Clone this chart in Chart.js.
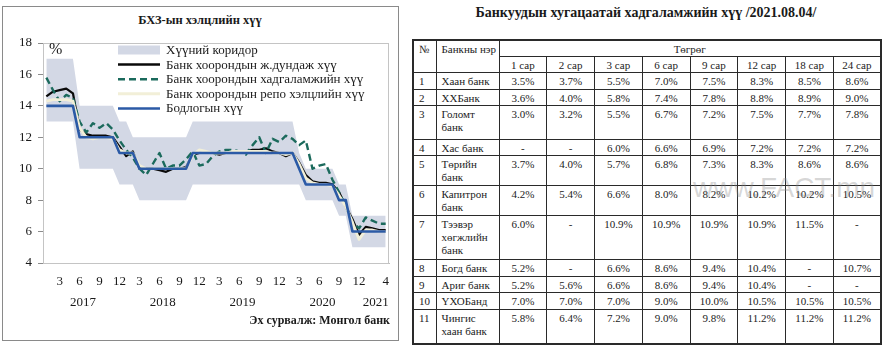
<!DOCTYPE html>
<html><head><meta charset="utf-8">
<script src="https://cdn.jsdelivr.net/npm/chart.js@4.4.1/dist/chart.umd.min.js"></script>
<style>
html,body{margin:0;padding:0;background:#fff;}
body{width:896px;height:352px;position:relative;overflow:hidden;font-family:"Liberation Serif","Times New Roman",serif;color:#1a1a1a;}
#panel{position:absolute;left:2px;top:6px;width:397px;height:335px;border:1.5px solid #8a8a8a;box-sizing:border-box;}
#cwrap{position:absolute;left:0;top:0;width:400px;height:352px;}
#ctitle{position:absolute;left:0;width:400px;top:12px;line-height:16px;text-align:center;font-weight:bold;font-size:12.5px;}
#src{position:absolute;left:0;width:390px;top:312px;line-height:16px;text-align:right;font-weight:bold;font-size:12px;}
#ttitle{position:absolute;left:412px;width:468px;top:4px;line-height:18px;text-align:center;font-weight:bold;font-size:14px;}
#tbl{position:absolute;left:412px;top:39px;width:468px;border-collapse:collapse;table-layout:fixed;font-size:11px;color:#222;}
#tbl td{border:1px solid #2a2a2a;padding:2px 0 0 0;vertical-align:top;line-height:13px;text-align:center;}
#tbl td.n{text-align:left;padding-left:5px;}
#tbl{border:2px solid #2a2a2a;}
#wm{position:absolute;left:693px;top:172px;font-family:"Liberation Sans",Arial,sans-serif;font-size:28px;color:rgba(140,140,140,0.35);white-space:nowrap;}
</style>
</head><body>
<div id="panel"></div>
<div id="ctitle">БХЗ-ын хэлцлийн хүү</div>
<div id="cwrap"><canvas id="c" width="400" height="352"></canvas></div>
<div id="src">Эх сурвалж: Монгол банк</div>
<div id="ttitle">Банкуудын хугацаатай хадгаламжийн хүү /2021.08.04/</div>
<table id="tbl"></table>
<div id="wm">www.FACT.mn</div>
<script>
// ---------- chart data ----------
const categories = [
 "2017.01","2017.02","2017.03","2017.04","2017.05","2017.06","2017.07","2017.08","2017.09","2017.10","2017.11","2017.12",
 "2018.01","2018.02","2018.03","2018.04","2018.05","2018.06","2018.07","2018.08","2018.09","2018.10","2018.11","2018.12",
 "2019.01","2019.02","2019.03","2019.04","2019.05","2019.06","2019.07","2019.08","2019.09","2019.10","2019.11","2019.12",
 "2020.01","2020.02","2020.03","2020.04","2020.05","2020.06","2020.07","2020.08","2020.09","2020.10","2020.11","2020.12",
 "2021.01","2021.02","2021.03","2021.04"];
const yearLabels = ["2017","2018","2019","2020","2021"];
const corridorLow = [13,13,13,13,13,10,10,10,10,10,10,9, 9,9,8,8,8,8,8,8,8,8,9,9, 9,9,9,9,9,9,9,9,9,9,9,9, 9,9,9,8,8,8,8,8,7,7,5,5, 5,5,5,5];
const corridorHigh = [17,17,17,17,17,14,14,14,14,14,14,13, 13,12,12,12,12,12,12,12,12,12,13,13, 13,13,13,13,13,13,13,13,13,13,13,13, 13,13,11,10,10,10,10,10,9,9,7,7, 7,7,7,7];
const interbankAvg = [14.6,14.9,15.0,15.1,14.8,12.5,12.2,12.1,12.1,12.1,12.0,11.4,
 10.8,11.1,10.0,10.0,10.0,9.9,9.8,10.0,10.0,10.1,10.9,11.0,
 11.0,11.0,10.9,11.0,11.0,11.0,11.1,11.2,11.2,11.3,11.1,11.0,
 10.8,11.0,10.4,9.6,9.2,9.1,9.1,9.0,8.5,7.6,6.8,5.8,
 6.3,6.2,6.1,6.1];
const interbankDeposit = [15.8,15.0,14.3,14.7,14.5,13.0,12.3,12.9,12.6,12.9,12.5,11.8,
 11.2,10.7,10.0,9.6,10.3,11.0,10.0,10.2,10.2,10.6,11.1,10.2,
 10.3,10.8,11.1,11.2,11.2,11.1,10.9,11.5,12.0,11.0,11.9,11.7,
 12.1,11.9,11.5,11.8,10.0,10.2,10.3,9.3,8.5,7.6,6.6,6.2,
 6.9,6.7,6.5,6.5];
const interbankRepo = [14.3,14.4,14.4,14.4,14.3,12.6,12.0,11.9,12.0,12.0,11.9,11.2,
 11.0,11.0,10.2,10.0,10.0,10.0,10.0,10.0,10.0,10.0,10.9,11.2,
 11.1,11.0,11.0,11.0,11.1,11.1,11.1,11.1,11.1,11.1,11.0,11.0,
 10.9,11.0,10.3,9.4,9.1,9.0,9.0,8.9,8.3,7.6,6.6,5.5,
 6.1,6.1,6.0,6.0];
const policyRate = [14,14,14,14,14,12,12,12,12,12,12,11, 11,11,10,10,10,10,10,10,10,10,11,11, 11,11,11,11,11,11,11,11,11,11,11,11, 11,11,10,9,9,9,9,9,8,8,6,6, 6,6,6,6];
const seriesNames = ["Хүүний коридор","Банк хоорондын ж.дундаж хүү","Банк хоорондын хадгаламжийн хүү","Банк хоорондын репо хэлцлийн хүү","Бодлогын хүү"];
const yTicks = [4,6,8,10,12,14,16,18];

// ---------- table data ----------
const termLabels = ["1 сар","2 сар","3 сар","6 сар","9 сар","12 сар","18 сар","24 сар"];
const bankNames = ["Хаан банк","ХХБанк","Голомт<br>банк","Хас банк","Төрийн<br>банк","Капитрон<br>банк","Тээвэр<br>хөгжлийн<br>банк","Богд банк","Ариг банк","ҮХОБанд","Чингис<br>хаан банк"];
const rates = [
 ["3.5%","3.7%","5.5%","7.0%","7.5%","8.3%","8.5%","8.6%"],
 ["3.6%","4.0%","5.8%","7.4%","7.8%","8.8%","8.9%","9.0%"],
 ["3.0%","3.2%","5.5%","6.7%","7.2%","7.5%","7.7%","7.8%"],
 ["-","-","6.0%","6.6%","6.9%","7.2%","7.2%","7.2%"],
 ["3.7%","4.0%","5.7%","6.8%","7.3%","8.3%","8.6%","8.6%"],
 ["4.2%","5.4%","6.6%","8.0%","8.2%","10.2%","10.2%","10.5%"],
 ["6.0%","-","10.9%","10.9%","10.9%","10.9%","11.5%","-"],
 ["5.2%","-","6.6%","8.6%","9.4%","10.4%","-","10.7%"],
 ["5.2%","5.6%","6.6%","8.6%","9.4%","10.4%","-","-"],
 ["7.0%","7.0%","7.0%","9.0%","10.0%","10.5%","10.5%","10.5%"],
 ["5.8%","6.4%","7.2%","9.0%","9.8%","11.2%","11.2%","11.2%"]];
const rowHeights = [16,16,17,16,34,16,30,30,44,17,15,17,34];

// build table
(function(){
  const t = document.getElementById('tbl');
  let h = '<colgroup><col style="width:23px"><col style="width:63px">' + termLabels.map(()=>'<col style="width:47.75px">').join('') + '</colgroup>';
  h += '<tr style="height:'+rowHeights[0]+'px"><td class="n" rowspan="2">№</td><td class="n" rowspan="2">Банкны нэр</td><td colspan="8">Төгрөг</td></tr>';
  h += '<tr style="height:'+rowHeights[1]+'px">' + termLabels.map(s=>'<td>'+s+'</td>').join('') + '</tr>';
  bankNames.forEach((b,i)=>{
    h += '<tr style="height:'+rowHeights[i+2]+'px"><td class="n">'+(i+1)+'</td><td class="n">'+b+'</td>' + rates[i].map(v=>'<td>'+v+'</td>').join('') + '</tr>';
  });
  t.innerHTML = h;
})();

const FONT = '"Liberation Serif","Times New Roman",serif';
Chart.defaults.font.family = FONT;
Chart.defaults.color = '#1a1a1a';

const COL = {band:'#d3d8e5', black:'#0a0a0a', teal:'#1b6a5c', cream:'#f2efd8', blue:'#2b5aa6'};

const decorPlugin = {
  id:'decor',
  beforeDatasetsDraw(chart){
    const a = chart.chartArea, ctx = chart.ctx;
    ctx.save();
    ctx.strokeStyle = '#c4c4c4'; ctx.lineWidth = 1;
    ctx.strokeRect(a.left+0.5, a.top+0.5, a.right-a.left-1, a.bottom-a.top);
    ctx.restore();
  },
  afterDraw(chart){
    const a = chart.chartArea, ctx = chart.ctx, xs = chart.scales.x;
    ctx.save();
    ctx.fillStyle = '#1a1a1a';
    ctx.font = '16px ' + FONT;
    ctx.textAlign = 'left'; ctx.textBaseline = 'middle';
    ctx.fillText('%', a.left + 6, a.top + 7);
    const lx0 = a.left + 75, lx1 = a.left + 117, tx = a.left + 123;
    const rowY = k => a.top + 7 + 14.6*k;
    ctx.font = '13px ' + FONT;
    const styles = [
      {type:'box', color:COL.band},
      {type:'line', color:COL.black, w:2.5, dash:[]},
      {type:'line', color:COL.teal, w:2.5, dash:[7,4]},
      {type:'line', color:COL.cream, w:3, dash:[]},
      {type:'line', color:COL.blue, w:2.5, dash:[]}];
    seriesNames.forEach((name,k)=>{
      const y = rowY(k), s = styles[k];
      if (s.type==='box'){ ctx.fillStyle = s.color; ctx.fillRect(lx0, y-4.5, lx1-lx0, 9); }
      else { ctx.beginPath(); ctx.setLineDash(s.dash); ctx.strokeStyle = s.color; ctx.lineWidth = s.w;
        ctx.moveTo(lx0, y); ctx.lineTo(lx1, y); ctx.stroke(); ctx.setLineDash([]); }
      ctx.fillStyle = '#1a1a1a';
      ctx.fillText(name, tx, y+0.5);
    });
    ctx.textAlign = 'center';
    ctx.font = '13px ' + FONT;
    yearLabels.forEach(yr=>{
      const idx = categories.map((c,i)=>c.startsWith(yr)?i:-1).filter(i=>i>=0);
      const px = (xs.getPixelForValue(idx[0]) + xs.getPixelForValue(idx[idx.length-1]))/2;
      ctx.fillText(yr, px, 303);
    });
    ctx.restore();
  }
};

new Chart(document.getElementById('c'), {
  type:'line',
  data:{
    labels: categories,
    datasets:[
      {label:seriesNames[0]+' (доод)', data:corridorLow, borderWidth:0, pointRadius:0, fill:false, order:10, borderColor:'rgba(0,0,0,0)'},
      {label:seriesNames[0], data:corridorHigh, borderWidth:0, pointRadius:0, fill:'-1', backgroundColor:COL.band, order:9, borderColor:'rgba(0,0,0,0)'},
      {label:seriesNames[1], data:interbankAvg, borderColor:COL.black, borderWidth:2.2, pointRadius:0, order:5},
      {label:seriesNames[2], data:interbankDeposit, borderColor:COL.teal, borderWidth:2.4, borderDash:[7,4], pointRadius:0, order:4},
      {label:seriesNames[3], data:interbankRepo, borderColor:COL.cream, borderWidth:2.8, pointRadius:0, order:3},
      {label:seriesNames[4], data:policyRate, borderColor:COL.blue, borderWidth:2.6, pointRadius:0, order:1}
    ]
  },
  options:{
    responsive:false, animation:false,
    layout:{padding:{top:43, right:7, bottom:0, left:0}},
    plugins:{legend:{display:false}, tooltip:{enabled:false}, title:{display:false}},
    elements:{line:{tension:0, borderJoinStyle:'round'}},
    scales:{
      x:{
        offset:true,
        grid:{display:false, drawTicks:false},
        border:{display:true, color:'#bdbdbd'},
        ticks:{autoSkip:false, maxRotation:0, minRotation:0, padding:11, font:{size:13, family:FONT}, color:'#1a1a1a',
          callback:function(v, i){
            const yr = categories[i].slice(0,4), m = parseInt(categories[i].slice(5),10);
            if (i===categories.length-1) return String(m);
            return (m%3===0 && yr!==yearLabels[yearLabels.length-1]) ? String(m) : '';
          }},
        afterFit:function(s){ s.height = 89; }
      },
      y:{
        min:4, max:18,
        afterBuildTicks:function(s){ s.ticks = yTicks.map(v=>({value:v})); },
        grid:{drawOnChartArea:false, drawTicks:true, tickLength:5, color:'#8c8c8c'},
        border:{display:true, color:'#8c8c8c'},
        ticks:{padding:6, font:{size:13, family:FONT}, color:'#1a1a1a'},
        afterFit:function(s){ s.width = 43; }
      }
    }
  },
  plugins:[decorPlugin]
});
</script>
</body></html>
